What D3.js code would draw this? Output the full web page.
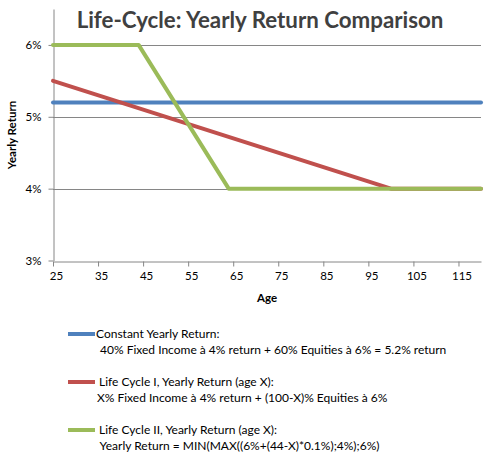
<!DOCTYPE html>
<html><head><meta charset="utf-8">
<script src="https://cdn.jsdelivr.net/npm/d3@7"></script>
<style>body{margin:0;background:#fff}svg{display:block}text{font-family:Lato,"Open Sans",sans-serif}</style>
</head><body>
<script>
// Data (breakpoints of each piecewise-linear series)
const ageTicks = [25, 35, 45, 55, 65, 75, 85, 95, 105, 115];
const yTicks = [3, 4, 5, 6];
const constantAges = [25, 120];
const constantValues = [5.2, 5.2];
const lc1Ages = [25, 100, 120];
const lc1Values = [5.5, 4.0, 4.0];
const lc2Ages = [25, 44, 64, 120];
const lc2Values = [6.0, 6.0, 4.0, 4.0];
const seriesNames = ["Constant Yearly Return", "Life Cycle I", "Life Cycle II"];
const legendLines = [
  ["Constant Yearly Return:", " 40% Fixed Income à 4% return + 60% Equities à 6% = 5.2% return"],
  [" Life Cycle I, Yearly Return (age X):", "X% Fixed Income à 4% return + (100-X)% Equities à 6%"],
  [" Life Cycle II, Yearly Return (age X):", " Yearly Return = MIN(MAX((6%+(44-X)*0.1%);4%);6%)"]
];
const colors = ["#4F81BD", "#C0504D", "#9BBB59"];

const W = 491, H = 458;
const svg = d3.select("body").append("svg").attr("width", W).attr("height", H);

const x = d3.scaleLinear().domain([25, 120]).range([53, 481]);
const y = d3.scaleLinear().domain([3, 6.5]).range([260.5, 9]);

// gridlines
svg.append("g").selectAll("line").data(yTicks.filter(d => d > 3)).join("line")
  .attr("x1", x(25)).attr("x2", x(120)).attr("y1", d => Math.round(y(d)) + 0.5).attr("y2", d => Math.round(y(d)) + 0.5)
  .attr("stroke", "#868686").attr("stroke-width", 1);

// y axis
const yAxis = svg.append("g").attr("transform", `translate(${x(25) + 0.5},0)`)
  .call(d3.axisLeft(y).tickValues(yTicks).tickFormat(d => d + "%").tickSize(5).tickSizeOuter(0));
yAxis.select(".domain").attr("stroke", "#868686");
yAxis.selectAll(".tick line").attr("stroke", "#868686");
yAxis.selectAll(".tick text").attr("font-size", 11.5).attr("fill", "#000").attr("x", -12);

// x axis
const xAxis = svg.append("g").attr("transform", `translate(0,${Math.round(y(3)) + 0.5})`)
  .call(d3.axisBottom(x).tickValues(ageTicks).tickFormat(d3.format("d")).tickSize(5).tickSizeOuter(0));
xAxis.select(".domain").attr("stroke", "#868686");
xAxis.selectAll(".tick line").attr("stroke", "#868686");
xAxis.selectAll(".tick text").attr("font-size", 11.5).attr("fill", "#000").attr("dy", "0.9em")
  .attr("transform", "translate(3,0)");

// titles
svg.append("text").attr("x", 260).attr("y", 28).attr("text-anchor", "middle")
  .attr("font-size", 22.3).attr("font-weight", "bold").attr("fill", "#404040")
  .text("Life-Cycle: Yearly Return Comparison");
svg.append("text").attr("x", 267).attr("y", 302).attr("text-anchor", "middle")
  .attr("font-size", 11.5).attr("font-weight", "bold").attr("fill", "#000").text("Age");
svg.append("text").attr("transform", "translate(16,135) rotate(-90)").attr("text-anchor", "middle")
  .attr("font-size", 11.5).attr("font-weight", "bold").attr("fill", "#000").text("Yearly Return");

// series
const line = d3.line().x(d => x(d[0])).y(d => y(d[1]));
const series = [
  d3.zip(constantAges, constantValues),
  d3.zip(lc1Ages, lc1Values),
  d3.zip(lc2Ages, lc2Values)
];
svg.append("g").selectAll("path").data(series).join("path")
  .attr("d", line).attr("fill", "none")
  .attr("stroke", (d, i) => colors[i]).attr("stroke-width", 4)
  .attr("stroke-linejoin", "round").attr("stroke-linecap", "round");

// legend
const legY = [334, 382, 430];
const lg = svg.append("g").selectAll("g").data(legendLines).join("g");
lg.append("line").attr("x1", 68).attr("x2", 95).attr("y1", (d, i) => legY[i]).attr("y2", (d, i) => legY[i])
  .attr("stroke", (d, i) => colors[i]).attr("stroke-width", 4);
lg.append("text").attr("x", 96).attr("y", (d, i) => legY[i] + 4).attr("font-size", 12).attr("fill", "#000")
  .style("white-space", "pre").text(d => d[0]);
lg.append("text").attr("x", 97).attr("y", (d, i) => legY[i] + 20).attr("font-size", 12).attr("fill", "#000")
  .style("white-space", "pre").text(d => d[1]);
</script>
</body></html>
